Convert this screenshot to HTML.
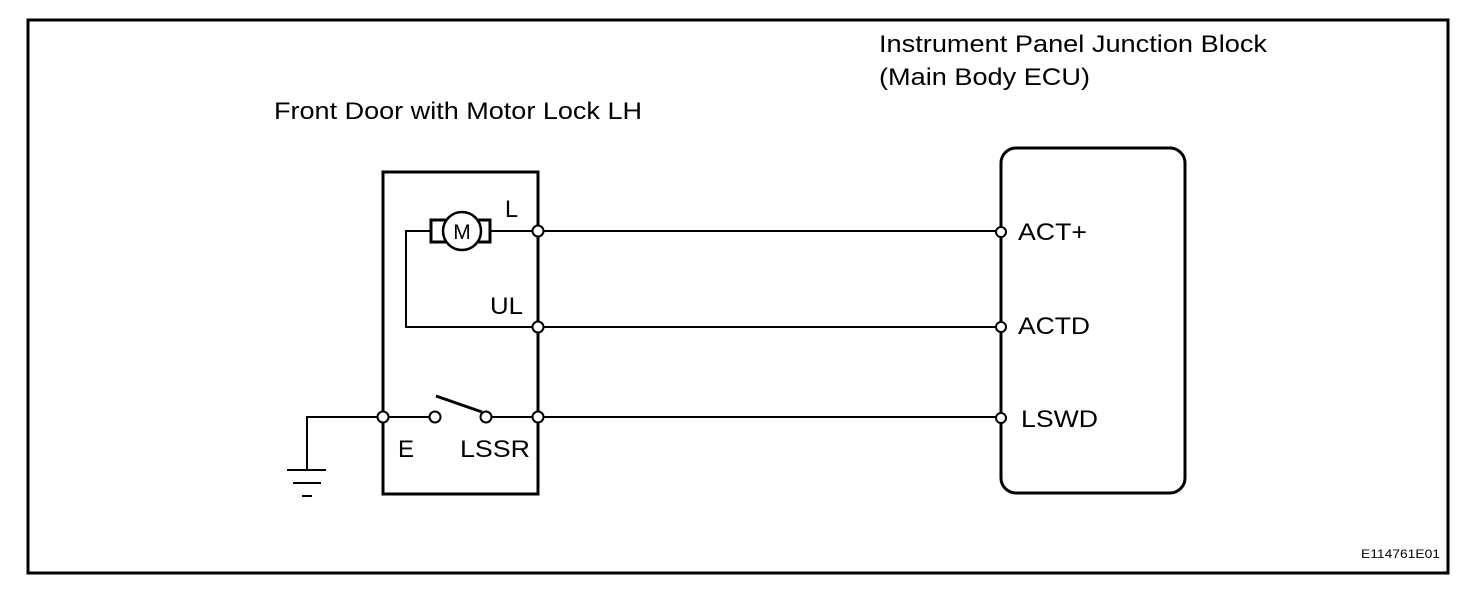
<!DOCTYPE html>
<html><head><style>
body{margin:0;background:#fff;}
svg text{font-family:"Liberation Sans",Arial,sans-serif;fill:#000;}
</style></head><body>
<svg width="1472" height="598" viewBox="0 0 1472 598" xmlns="http://www.w3.org/2000/svg">
<rect x="28" y="20" width="1420" height="553" fill="none" stroke="#000" stroke-width="3"/>
<text x="879" y="52" font-size="24" textLength="388" lengthAdjust="spacingAndGlyphs">Instrument Panel Junction Block</text>
<text x="879" y="85" font-size="24" textLength="211" lengthAdjust="spacingAndGlyphs">(Main Body ECU)</text>
<text x="274" y="119" font-size="24" textLength="368" lengthAdjust="spacingAndGlyphs">Front Door with Motor Lock LH</text>
<rect x="383" y="172" width="155" height="322" fill="none" stroke="#000" stroke-width="3"/>
<rect x="1001" y="148" width="184" height="345" rx="15" fill="none" stroke="#000" stroke-width="3"/>
<g stroke="#000" stroke-width="2" fill="none">
<line x1="490" y1="231" x2="1001" y2="231"/>
<polyline points="430,231 406,231 406,327 1001,327"/>
<line x1="538" y1="417" x2="1001" y2="417"/>
<line x1="383" y1="417" x2="430" y2="417"/>
<line x1="491" y1="417" x2="538" y2="417"/>
<polyline points="383,417 307,417 307,470"/>
<line x1="287" y1="470" x2="326" y2="470"/>
<line x1="293" y1="483" x2="321" y2="483"/>
<line x1="302" y1="496" x2="312" y2="496"/>
<line x1="436" y1="396" x2="482" y2="412" stroke-width="3"/>
</g>
<rect x="431" y="220" width="59" height="22" fill="#fff" stroke="#000" stroke-width="3"/>
<circle cx="462" cy="231" r="19" fill="#fff" stroke="#000" stroke-width="2.5"/>
<text x="462" y="239" font-size="21" text-anchor="middle">M</text>
<g fill="#fff" stroke="#000" stroke-width="2">
<circle cx="538" cy="231" r="5.5"/><circle cx="538" cy="327" r="5.5"/><circle cx="538" cy="417" r="5.5"/>
<circle cx="383" cy="417" r="5.5"/><circle cx="435" cy="417" r="5.5"/><circle cx="486" cy="417" r="5.5"/>
<circle cx="1001" cy="232" r="5"/><circle cx="1001" cy="327" r="5"/><circle cx="1001" cy="418" r="5"/>
</g>
<text x="505" y="217" font-size="24" textLength="13" lengthAdjust="spacingAndGlyphs">L</text>
<text x="490" y="314" font-size="24" textLength="33" lengthAdjust="spacingAndGlyphs">UL</text>
<text x="398" y="457" font-size="24" textLength="16" lengthAdjust="spacingAndGlyphs">E</text>
<text x="460" y="457" font-size="24" textLength="70" lengthAdjust="spacingAndGlyphs">LSSR</text>
<text x="1018" y="240" font-size="24" textLength="69" lengthAdjust="spacingAndGlyphs">ACT+</text>
<text x="1018" y="334" font-size="24" textLength="72" lengthAdjust="spacingAndGlyphs">ACTD</text>
<text x="1021" y="427" font-size="24" textLength="77" lengthAdjust="spacingAndGlyphs">LSWD</text>
<text x="1361" y="558" font-size="12" textLength="79" lengthAdjust="spacingAndGlyphs">E114761E01</text>
</svg>
</body></html>
